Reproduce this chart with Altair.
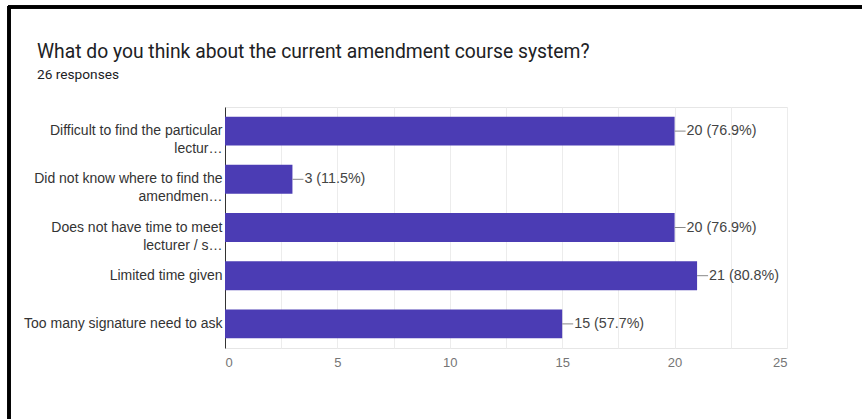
import altair as alt
import pandas as pd

categories = [
    "Difficult to find the particular\nlectur…",
    "Did not know where to find the\namendmen…",
    "Does not have time to meet\nlecturer / s…",
    "Limited time given",
    "Too many signature need to ask",
]
counts = [20, 3, 20, 21, 15]
total_responses = 26
x_ticks = [0, 2.5, 5, 7.5, 10, 12.5, 15, 17.5, 20, 22.5, 25]

df = pd.DataFrame({"category": categories, "count": counts})
df["label"] = [f"{c} ({c / total_responses * 100:.1f}%)" for c in counts]

W, H = 562, 241
PL, PT = 225, 107

y_enc = alt.Y(
    "category:N",
    sort=categories,
    scale=alt.Scale(paddingInner=0.4, paddingOuter=0.2),
    axis=alt.Axis(
        title=None,
        labelExpr="split(datum.label, '\\n')",
        labelFontSize=14,
        labelFont="Liberation Sans",
        labelColor="#333333",
        labelPadding=3,
        labelLimit=0,
        labelLineHeight=18,
        ticks=False,
        domain=True,
        domainColor="#333333",
        domainWidth=1,
        grid=False,
    ),
)

x_enc = alt.X(
    "count:Q",
    scale=alt.Scale(domain=[0, 25], nice=False),
    axis=alt.Axis(
        title=None,
        values=x_ticks,
        labelExpr="datum.value % 5 == 0 ? datum.label : ''",
        labelFontSize=13,
        labelFont="Liberation Sans",
        labelColor="#757575",
        labelPadding=8,
        ticks=False,
        domain=False,
        grid=True,
        gridColor="#ececec",
        gridWidth=1,
    ),
)

bars = alt.Chart(df).mark_bar(color="#4b3cb4").encode(x=x_enc, y=y_enc)

leaders = alt.Chart(df).mark_rule(color="#888888", strokeWidth=1, x2Offset=11).encode(
    x="count:Q", x2="count:Q", y=alt.Y("category:N", sort=categories)
)

texts = alt.Chart(df).mark_text(
    align="left", baseline="middle", dx=12, fontSize=14.3,
    font="Liberation Sans", color="#444444"
).encode(x="count:Q", y=alt.Y("category:N", sort=categories), text="label:N")

frame_top = alt.Chart(df).mark_rule(color="#000000", strokeWidth=3).encode(
    x=alt.value(8 - PL), x2=alt.value(862 - PL), y=alt.value(7 - PT)
)
frame_left = alt.Chart(df).mark_rule(color="#000000", strokeWidth=3).encode(
    x=alt.value(9 - PL), y=alt.value(6 - PT), y2=alt.value(419 - PT)
)

chart = alt.layer(bars, leaders, texts, frame_top, frame_left).properties(
    width=W,
    height=H,
    padding={"left": PL, "top": PT, "right": 862 - PL - W, "bottom": 419 - PT - H},
    autosize=alt.AutoSizeParams(type="none"),
    title=alt.TitleParams(
        text="What do you think about the current amendment course system?",
        subtitle="26 responses",
        anchor="start",
        frame="group",
        dx=37 - PL,
        offset=-77,
        font="Roboto",
        fontSize=19.3,
        fontWeight="normal",
        color="#202124",
        subtitleFont="Roboto",
        subtitleFontSize=13.7,
        subtitleColor="#202124",
        subtitlePadding=6,
    ),
    background="white",
).configure_view(stroke="#e6e6e6", strokeWidth=1)

chart.save("out.html", embed_options={"renderer": "svg", "actions": False})
